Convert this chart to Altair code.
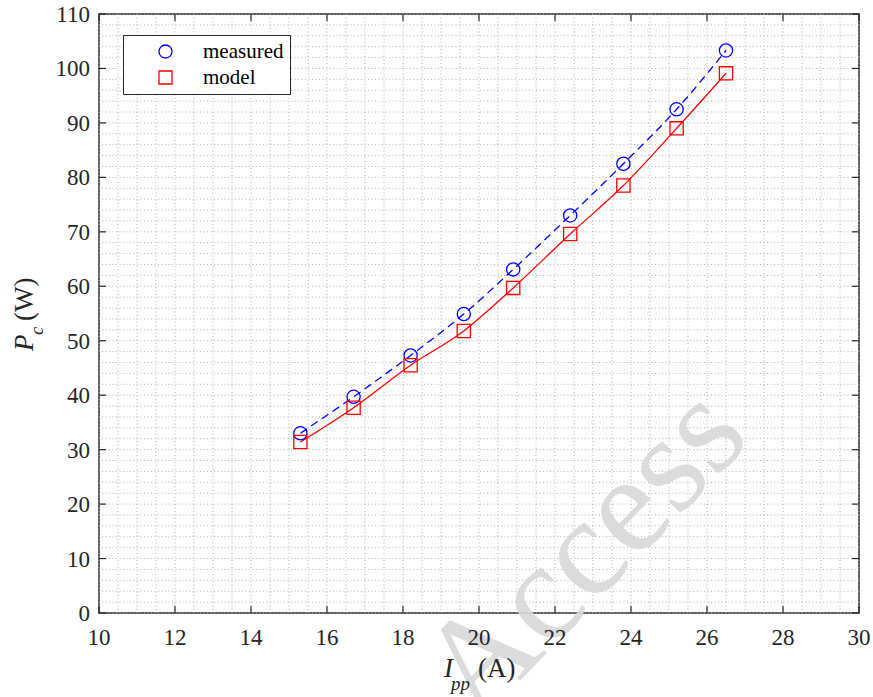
import altair as alt
import pandas as pd

# ---- data ----
current = [15.3, 16.7, 18.2, 19.6, 20.9, 22.4, 23.8, 25.2, 26.5]
measured = [33.0, 39.7, 47.3, 54.9, 63.1, 73.0, 82.5, 92.5, 103.3]
model = [31.4, 37.7, 45.5, 51.8, 59.7, 69.6, 78.5, 89.0, 99.1]

x_major = [10, 12, 14, 16, 18, 20, 22, 24, 26, 28, 30]
y_major = [0, 10, 20, 30, 40, 50, 60, 70, 80, 90, 100, 110]
x_minor = [10 + 0.5 * i for i in range(41)]
y_minor = [2 * i for i in range(56)]

W, H = 760, 599
FONT = "Liberation Serif"
AX = "#262626"

xs = alt.Scale(domain=[10, 30], nice=False, zero=False)
ys = alt.Scale(domain=[0, 110], nice=False)

df_meas = pd.DataFrame({"I": current, "P": measured, "series": "measured"})
df_mod = pd.DataFrame({"I": current, "P": model, "series": "model"})
df_pts = pd.concat([df_meas, df_mod], ignore_index=True)

gx = pd.DataFrame({"v": x_minor})
gy = pd.DataFrame({"v": y_minor})
tx = pd.DataFrame({"v": x_major, "t": [str(v) for v in x_major]})
ty = pd.DataFrame({"v": y_major, "t": [str(v) for v in y_major]})

grid_style = dict(color="#b0b0b0", strokeDash=[1, 2.5], strokeWidth=1)

grid_x = alt.Chart(gx).mark_rule(**grid_style).encode(
    x=alt.X("v:Q", scale=xs, axis=None))
grid_y = alt.Chart(gy).mark_rule(**grid_style).encode(
    y=alt.Y("v:Q", scale=ys, axis=None))

tick_style = dict(color=AX, strokeWidth=1.2)
ticks_bottom = alt.Chart(tx).mark_rule(**tick_style).encode(
    x=alt.X("v:Q", scale=xs, axis=None), y=alt.value(H), y2=alt.value(H - 7))
ticks_top = alt.Chart(tx).mark_rule(**tick_style).encode(
    x=alt.X("v:Q", scale=xs, axis=None), y=alt.value(0), y2=alt.value(7))
ticks_left = alt.Chart(ty).mark_rule(**tick_style).encode(
    y=alt.Y("v:Q", scale=ys, axis=None), x=alt.value(0), x2=alt.value(7))
ticks_right = alt.Chart(ty).mark_rule(**tick_style).encode(
    y=alt.Y("v:Q", scale=ys, axis=None), x=alt.value(W), x2=alt.value(W - 7))

# tick labels (positioned through the scales)
labels_x = alt.Chart(tx).mark_text(
    font=FONT, fontSize=23, color=AX, align="center", baseline="alphabetic").encode(
    x=alt.X("v:Q", scale=xs, axis=None), y=alt.value(H + 32), text="t:N")
labels_y = alt.Chart(ty).mark_text(
    font=FONT, fontSize=23, color=AX, align="right", baseline="alphabetic", dy=8).encode(
    y=alt.Y("v:Q", scale=ys, axis=None), x=alt.value(-9), text="t:N")

wm = alt.Chart(pd.DataFrame({"t": ["Access"]})).mark_text(
    font=FONT, fontSize=140, color="#d9d9d9", opacity=0.9, angle=314,
    align="center", baseline="middle").encode(
    text="t:N", x=alt.value(486), y=alt.value(539))

line_meas = alt.Chart(df_meas).mark_line(
    color="#0000ff", strokeDash=[8, 5], strokeWidth=1.3, interpolate="monotone"
).encode(x=alt.X("I:Q", scale=xs, axis=None), y=alt.Y("P:Q", scale=ys, axis=None))
line_mod = alt.Chart(df_mod).mark_line(
    color="#ff0000", strokeWidth=1.3, interpolate="monotone"
).encode(x=alt.X("I:Q", scale=xs, axis=None), y=alt.Y("P:Q", scale=ys, axis=None))

leg = alt.Legend(orient="none", legendX=24, legendY=21, title=None,
                 strokeColor=AX, fillColor="white", padding=6,
                 symbolOffset=26, labelOffset=27, rowPadding=4,
                 labelFont=FONT, labelFontSize=21, labelColor="black",
                 symbolSize=170, symbolStrokeWidth=1.3,
                 symbolFillColor="transparent", zindex=2)

points = alt.Chart(df_pts).mark_point(filled=False, strokeWidth=1.3, size=175, opacity=1).encode(
    x=alt.X("I:Q", scale=xs, axis=None),
    y=alt.Y("P:Q", scale=ys, axis=None),
    color=alt.Color("series:N",
                    scale=alt.Scale(domain=["measured", "model"], range=["#0000ff", "#ff0000"]),
                    legend=leg),
    shape=alt.Shape("series:N",
                    scale=alt.Scale(domain=["measured", "model"], range=["circle", "square"]),
                    legend=leg),
)

def label(txt, x, y, size, italic=False, angle=0, baseline="alphabetic"):
    kw = dict(font=FONT, fontSize=size, color=AX, align="left", baseline=baseline)
    if italic:
        kw["fontStyle"] = "italic"
    if angle:
        kw["angle"] = angle
    return alt.Chart(pd.DataFrame({"t": [txt]})).mark_text(**kw).encode(
        text="t:N", x=alt.value(x), y=alt.value(y))

titles = [
    label("I", 345, 663, 27, italic=True),
    label("pp", 352, 676, 19, italic=True),
    label("(A)", 379, 663, 27),
    label("P", -66, 337, 27, italic=True, angle=270),
    label("c", -56, 321, 19, italic=True, angle=270),
    label("(W)", -66, 307, 27, angle=270),
]

chart = alt.layer(
    grid_x, grid_y, wm, line_meas, line_mod, points,
    ticks_bottom, ticks_top, ticks_left, ticks_right, labels_x, labels_y, *titles
).properties(
    width=W, height=H,
    autosize=alt.AutoSizeParams(type="none"),
    padding={"left": 99, "top": 14, "right": 14, "bottom": 84},
    background="white",
).configure_view(
    stroke=AX, strokeWidth=1.5
)

chart.save("out.html", embed_options={"renderer": "svg", "actions": False})
